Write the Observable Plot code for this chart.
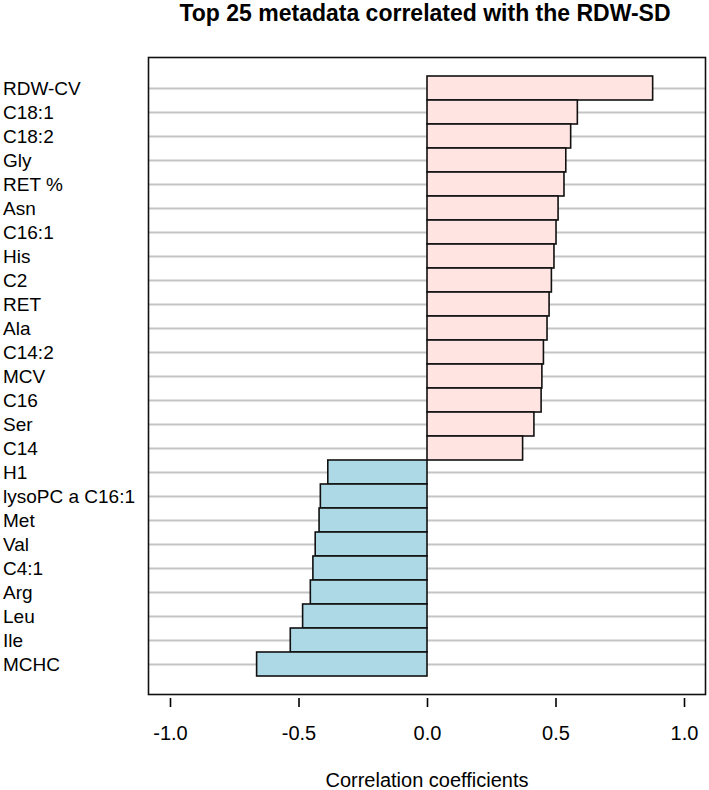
<!DOCTYPE html>
<html>
<head>
<meta charset="utf-8">
<script src="https://cdn.jsdelivr.net/npm/d3@7"></script>
<script src="https://cdn.jsdelivr.net/npm/@observablehq/plot@0.6"></script>
<style>
  html, body { margin: 0; padding: 0; background: #fff; }
  #chart { width: 709px; font-family: "Liberation Sans", Arial, sans-serif; }
  #title {
    height: 40px; width: 709px; box-sizing: border-box;
    padding-left: 141px; text-align: center;
    font: bold 23px/26px "Liberation Sans", Arial, sans-serif; color: #000;
  }
  svg { display: block; }
</style>
</head>
<body>
<div id="chart">
  <div id="title">Top 25 metadata correlated with the RDW-SD</div>
</div>
<script>
// Metadata variables, ordered from top to bottom
const names = [
  "RDW-CV", "C18:1", "C18:2", "Gly", "RET %", "Asn", "C16:1", "His", "C2", "RET",
  "Ala", "C14:2", "MCV", "C16", "Ser", "C14", "H1", "lysoPC a C16:1", "Met", "Val",
  "C4:1", "Arg", "Leu", "Ile", "MCHC"
];

// Correlation coefficient of each variable with RDW-SD
const values = [
  0.878, 0.585, 0.559, 0.540, 0.533, 0.510, 0.502, 0.494, 0.484, 0.475,
  0.467, 0.453, 0.447, 0.444, 0.416, 0.372, -0.386, -0.415, -0.420, -0.435,
  -0.444, -0.454, -0.484, -0.532, -0.663
];

// Axis tick values
const xTicks = [-1.0, -0.5, 0.0, 0.5, 1.0];

const rows = names.map((name, i) => ({name, value: values[i]}));

const chart = Plot.plot({
  width: 709,
  height: 750,
  marginTop: 17,
  marginBottom: 96,
  marginLeft: 148,
  marginRight: 4,
  style: {fontFamily: "'Liberation Sans', Arial, sans-serif", color: "#000", background: "#fff"},
  x: {domain: [-1.0856, 1.0817]},
  y: {domain: names, padding: 0, insetTop: 12.75, insetBottom: 11.75},
  marks: [
    Plot.gridY(names, {stroke: "#c4c4c4", strokeOpacity: 1, strokeWidth: 2}),
    Plot.barX(rows, {
      x: "value",
      y: "name",
      fill: d => d.value > 0 ? "mistyrose" : "lightblue",
      stroke: "#111",
      strokeWidth: 1.6
    }),
    Plot.frame({stroke: "#111", strokeWidth: 1.6}),
    Plot.axisY(names, {
      tickSize: 0,
      tickPadding: 145.5,
      textAnchor: "start",
      fontSize: 19,
      label: null
    }),
    Plot.axisX(xTicks, {
      tickSize: 9,
      tickPadding: 18,
      dy: 4,
      fontSize: 20,
      strokeWidth: 1.6,
      tickFormat: d => d.toFixed(1),
      label: null
    }),
    Plot.text(["Correlation coefficients"], {
      frameAnchor: "bottom",
      dy: 92,
      lineAnchor: "bottom",
      fontSize: 20
    })
  ]
});

document.getElementById("chart").appendChild(chart);
</script>
</body>
</html>
